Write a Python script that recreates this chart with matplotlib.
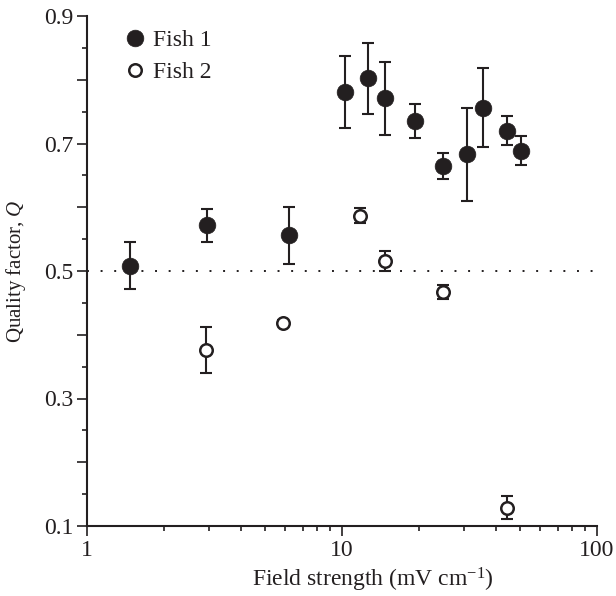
import numpy as np
import matplotlib
matplotlib.use("Agg")
import matplotlib.pyplot as plt
from matplotlib.ticker import FixedLocator, MultipleLocator, LogLocator, NullFormatter

plt.rcParams['font.family'] = ['Liberation Serif', 'DejaVu Serif']
plt.rcParams['mathtext.fontset'] = 'custom'
plt.rcParams['mathtext.rm'] = 'Liberation Serif'
plt.rcParams['mathtext.it'] = 'Liberation Serif:italic'

# ---- data ----
fish1_x = [1.48, 2.95, 6.2, 10.3, 12.6, 14.8, 19.4, 25.0, 31.0, 35.7, 44.5, 50.3]
fish1_q = [0.508, 0.572, 0.556, 0.781, 0.802, 0.771, 0.735, 0.665, 0.683, 0.756, 0.720, 0.689]
fish1_err = [0.037, 0.026, 0.045, 0.057, 0.055, 0.057, 0.027, 0.020, 0.073, 0.062, 0.023, 0.022]

fish2_x = [2.94, 5.89, 11.8, 14.7, 25.0, 44.5]
fish2_q = [0.376, 0.418, 0.587, 0.516, 0.467, 0.129]
fish2_err = [0.036, 0.005, 0.012, 0.016, 0.011, 0.018]

series_labels = ['Fish 1', 'Fish 2']
x_ticks = [1, 10, 100]
x_ticklabels = ['1', '10', '100']
y_ticks = [0.1, 0.2, 0.3, 0.4, 0.5, 0.6, 0.7, 0.8, 0.9]
y_ticklabels = ['0.1', '', '0.3', '', '0.5', '', '0.7', '', '0.9']
ref_level = 0.5

K = '#231f20'
FS = 17

fig = plt.figure(figsize=(6.16, 5.96), dpi=100)
ax = fig.add_axes([87/616, 1-526/596, 510/616, 510/596])

ax.errorbar(fish1_x, fish1_q, yerr=fish1_err, fmt='none', ecolor=K,
            elinewidth=1.5, capsize=4.6, capthick=1.5, zorder=2)
ax.errorbar(fish2_x, fish2_q, yerr=fish2_err, fmt='none', ecolor=K,
            elinewidth=1.5, capsize=4.6, capthick=1.5, zorder=2)
ax.plot(fish1_x, fish1_q, 'o', ms=12, mfc=K, mec=K, mew=0.5, ls='none',
        label=series_labels[0], zorder=4)
ax.plot(fish2_x, fish2_q, 'o', ms=9, mfc='white', mec=K, mew=1.8, ls='none',
        label=series_labels[1], zorder=4)

ax.axhline(ref_level, color=K, lw=1.4, ls=(0, (1, 6)), zorder=1)

ax.set_xscale('log')
ax.set_xlim(1, 100)
ax.set_ylim(0.1, 0.9)
ax.xaxis.set_major_locator(FixedLocator(x_ticks))
ax.set_xticklabels(x_ticklabels)
ax.xaxis.set_minor_locator(LogLocator(base=10, subs=np.arange(2, 10)))
ax.xaxis.set_minor_formatter(NullFormatter())
ax.set_yticks(y_ticks)
ax.set_yticklabels(y_ticklabels)
ax.yaxis.set_minor_locator(MultipleLocator(0.05))

for s in ['top', 'right']:
    ax.spines[s].set_visible(False)
for s in ['left', 'bottom']:
    ax.spines[s].set_linewidth(1.5)
    ax.spines[s].set_color(K)

ax.tick_params(which='major', direction='out', length=7, width=1.2, color=K,
               labelsize=FS, labelcolor=K, pad=3)
ax.tick_params(which='minor', direction='out', length=3.6, width=1.2, color=K)

ax.set_xlabel('Field strength (mV cm$^{-1}$)', fontsize=FS, color=K)
ax.set_ylabel('Quality factor, $Q$', fontsize=15, color=K)
ax.xaxis.set_label_coords(0.56, -0.078)
ax.yaxis.set_label_coords(-0.116, 0.5)

leg = ax.legend(loc='upper left', bbox_to_anchor=(0.0765, 0.974), frameon=False,
                fontsize=FS, handlelength=0.8, handletextpad=0.35,
                labelspacing=0.45, borderpad=0, borderaxespad=0)
for t in leg.get_texts():
    t.set_color(K)

fig.savefig('out.png', dpi=100)
